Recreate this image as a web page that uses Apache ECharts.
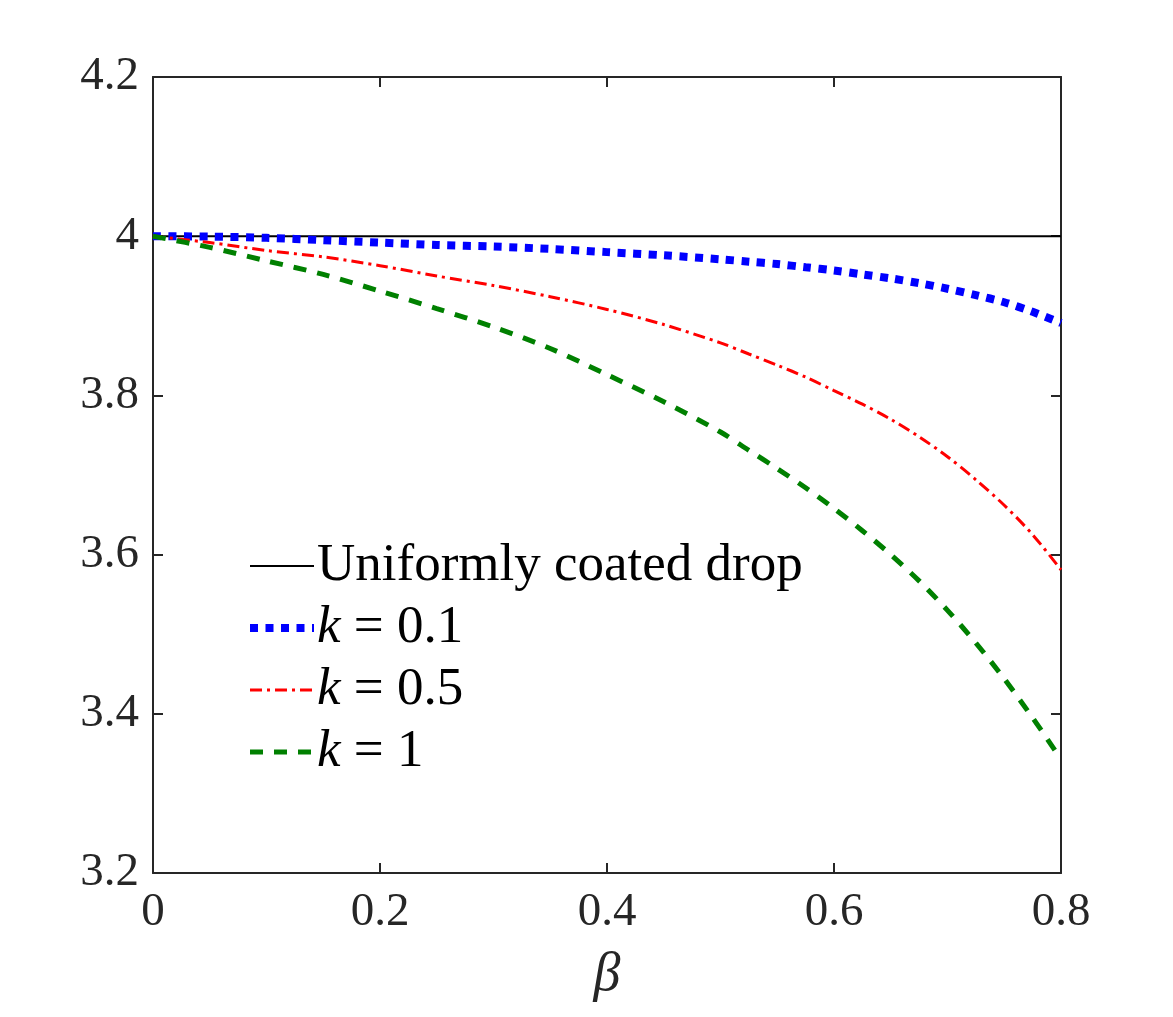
<!DOCTYPE html>
<html>
<head>
<meta charset="utf-8">
<script src="https://cdn.jsdelivr.net/npm/echarts@6/dist/echarts.min.js"></script>
<style>html,body{margin:0;padding:0;background:#fff;}#c{width:1173px;height:1017px;}</style>
</head>
<body>
<div id="c"></div>
<script>
// Data
var beta = [0, 0.05, 0.1, 0.15, 0.2, 0.25, 0.3, 0.35, 0.4, 0.45, 0.5, 0.525, 0.55, 0.575, 0.6, 0.625, 0.65, 0.675, 0.7, 0.725, 0.75, 0.775, 0.8];
var uniform = [4, 4, 4, 4, 4, 4, 4, 4, 4, 4, 4, 4, 4, 4, 4, 4, 4, 4, 4, 4, 4, 4, 4];
var k01 = [4.0, 3.9995, 3.998, 3.995, 3.992, 3.989, 3.987, 3.984, 3.980, 3.976, 3.971, 3.968, 3.965, 3.961, 3.957, 3.952, 3.947, 3.941, 3.934, 3.926, 3.917, 3.905, 3.891];
var k05 = [4.0, 3.992, 3.982, 3.974, 3.963, 3.950, 3.938, 3.924, 3.908, 3.889, 3.866, 3.852, 3.838, 3.823, 3.806, 3.789, 3.770, 3.748, 3.723, 3.694, 3.662, 3.625, 3.581];
var k1 = [4.0, 3.986, 3.969, 3.952, 3.931, 3.909, 3.886, 3.859, 3.826, 3.792, 3.754, 3.731, 3.708, 3.684, 3.658, 3.630, 3.600, 3.567, 3.530, 3.489, 3.444, 3.395, 3.343];
var seriesNames = ['Uniformly coated drop', 'k = 0.1', 'k = 0.5', 'k = 1'];
var xTicks = [0, 0.2, 0.4, 0.6, 0.8];
var yTicks = [3.2, 3.4, 3.6, 3.8, 4, 4.2];

function pairs(ys) { return beta.map(function (b, i) { return [b, ys[i]]; }); }

var axisColor = '#262626';
var font = '"Liberation Serif", "Times New Roman", serif';

var chart = echarts.init(document.getElementById('c'));
var commonAxisLine = { show: true, onZero: false, lineStyle: { color: axisColor, width: 2 } };
var commonTick = { show: true, inside: true, length: 10, lineStyle: { color: axisColor, width: 2 } };

chart.setOption({
  animation: false,
  backgroundColor: '#ffffff',
  grid: { left: 153, right: 112, top: 77, bottom: 144, containLabel: false, outerBoundsMode: 'none' },
  xAxis: [
    {
      type: 'value', min: 0, max: 0.8, interval: 0.2, position: 'bottom',
      axisLine: commonAxisLine, axisTick: commonTick, splitLine: { show: false },
      axisLabel: { color: axisColor, fontFamily: font, fontSize: 47, margin: 16,
        formatter: function (v) { var r = Math.round(v * 10) / 10; return xTicks.indexOf(r) >= 0 ? String(r) : ''; } },
      name: 'β', nameLocation: 'middle', nameGap: 76,
      nameTextStyle: { color: axisColor, fontFamily: font, fontSize: 54, fontStyle: 'italic' }
    },
    {
      type: 'value', min: 0, max: 0.8, interval: 0.2, position: 'top',
      axisLine: commonAxisLine, axisTick: commonTick, splitLine: { show: false }, axisLabel: { show: false }
    }
  ],
  yAxis: [
    {
      type: 'value', min: 3.2, max: 4.2, interval: 0.2, position: 'left',
      axisLine: commonAxisLine, axisTick: commonTick, splitLine: { show: false },
      axisLabel: { color: axisColor, fontFamily: font, fontSize: 47, margin: 14,
        formatter: function (v) { var r = Math.round(v * 10) / 10; return yTicks.indexOf(r) >= 0 ? String(r) : ''; } }
    },
    {
      type: 'value', min: 3.2, max: 4.2, interval: 0.2, position: 'right',
      axisLine: commonAxisLine, axisTick: commonTick, splitLine: { show: false }, axisLabel: { show: false }
    }
  ],
  legend: {
    orient: 'vertical', left: 241, top: 534,
    itemWidth: 64, itemHeight: 12, itemGap: 8,
    data: seriesNames,
    itemStyle: { opacity: 0 },
    lineStyle: { width: 'inherit', type: 'inherit', cap: 'butt' },
    formatter: function (name) {
      if (name.indexOf('k = ') === 0) { return '{i|k} = ' + name.slice(4); }
      return name;
    },
    textStyle: {
      color: '#000', fontFamily: font, fontSize: 53, lineHeight: 54, padding: [0, 0, 0, -2],
      rich: { i: { fontFamily: font, fontSize: 53, fontStyle: 'italic', color: '#000' } }
    }
  },
  series: [
    { name: seriesNames[0], type: 'line', data: pairs(uniform), symbol: 'none',
      lineStyle: { color: '#000000', width: 2, type: 'solid' }, itemStyle: { color: '#000000' }, z: 2 },
    { name: seriesNames[1], type: 'line', data: pairs(k01), symbol: 'none', smooth: 0.3,
      lineStyle: { color: '#0000ff', width: 8, type: [8, 7.5], cap: 'butt' }, itemStyle: { color: '#0000ff' }, z: 3 },
    { name: seriesNames[2], type: 'line', data: pairs(k05), symbol: 'none', smooth: 0.3,
      lineStyle: { color: '#ff0000', width: 3, type: [12, 5, 3, 5], cap: 'butt' }, itemStyle: { color: '#ff0000' }, z: 4 },
    { name: seriesNames[3], type: 'line', data: pairs(k1), symbol: 'none', smooth: 0.3,
      lineStyle: { color: '#008000', width: 5, type: [13, 11], cap: 'butt' }, itemStyle: { color: '#008000' }, z: 5 }
  ]
});
</script>
</body>
</html>
